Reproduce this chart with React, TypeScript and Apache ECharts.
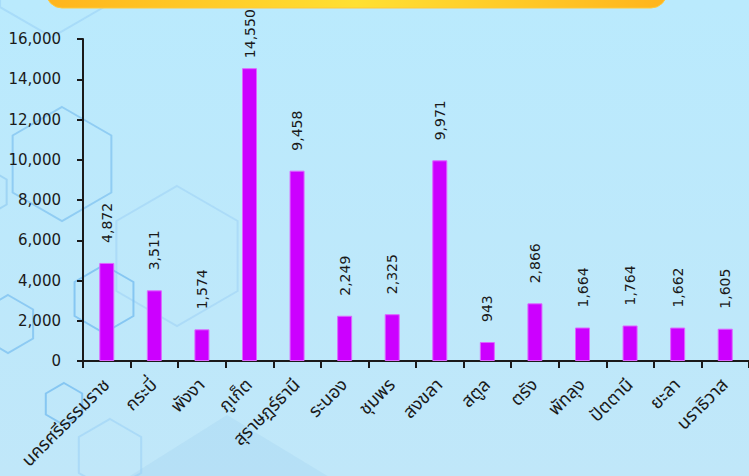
import React, { useEffect, useRef } from "react";
import * as echarts from "echarts";

const provinces = [
  "นครศรีธรรมราช",
  "กระบี่",
  "พังงา",
  "ภูเก็ต",
  "สุราษฎร์ธานี",
  "ระนอง",
  "ชุมพร",
  "สงขลา",
  "สตูล",
  "ตรัง",
  "พัทลุง",
  "ปัตตานี",
  "ยะลา",
  "นราธิวาส",
];
const counts = [4872, 3511, 1574, 14550, 9458, 2249, 2325, 9971, 943, 2866, 1664, 1764, 1662, 1605];
const yMin = 0;
const yMax = 16000;
const yInterval = 2000;

function hex(cx: number, cy: number, r: number, stroke: string, lineWidth: number) {
  const pts: number[][] = [];
  for (let i = 0; i < 6; i++) {
    const a = ((-90 + 60 * i) * Math.PI) / 180;
    pts.push([cx + r * Math.cos(a), cy + r * Math.sin(a)]);
  }
  return {
    type: "polygon",
    silent: true,
    z: -10,
    shape: { points: pts },
    style: { fill: "none", stroke, lineWidth },
  };
}

export default function App() {
  const ref = useRef<HTMLDivElement>(null);
  useEffect(() => {
    document.body.style.margin = "0";
    const chart = echarts.init(ref.current!, undefined, { renderer: "svg" });
    const labelFont = "'DejaVu Sans', Verdana, sans-serif";
    const option: any = {
      animation: false,
      backgroundColor: {
        type: "linear",
        x: 0,
        y: 0,
        x2: 0,
        y2: 1,
        colorStops: [
          { offset: 0, color: "#BAEAFD" },
          { offset: 1, color: "#C0E7F9" },
        ],
      },
      graphic: [
        {
          type: "polygon",
          silent: true,
          z: -11,
          shape: { points: [[227, 415], [60, 520], [400, 520]] },
          style: { fill: "rgba(140,195,235,0.18)" },
        },
        hex(52, -23, 60, "rgba(150,205,245,0.5)", 2),
        hex(62, 164, 57, "rgba(130,195,240,0.75)", 2),
        hex(177, 256, 70, "rgba(150,205,245,0.45)", 2),
        hex(104, 299, 34, "rgba(120,190,240,0.8)", 2),
        hex(8, 324, 29, "rgba(120,190,240,0.7)", 2),
        hex(-15, 192, 25, "rgba(140,200,240,0.6)", 2),
        hex(64, 404, 21, "rgba(120,190,240,0.8)", 2),
        hex(110, 455, 36, "rgba(150,205,245,0.5)", 2),
        {
          type: "rect",
          silent: true,
          z: 10,
          shape: { x: 46, y: -40, width: 621, height: 48, r: 16 },
          style: {
            fill: {
              type: "linear",
              x: 0,
              y: 0,
              x2: 1,
              y2: 0,
              colorStops: [
                { offset: 0, color: "#FFB41C" },
                { offset: 0.5, color: "#FFE033" },
                { offset: 1, color: "#FFB41C" },
              ],
            },
            stroke: "#FFC93A",
            lineWidth: 1,
          },
        },
      ],
      grid: { left: 83, right: 0, top: 39, bottom: 115, containLabel: false },
      xAxis: {
        type: "category",
        data: provinces,
        axisLine: { show: true, lineStyle: { color: "#1a1a1a", width: 2 } },
        axisTick: { show: true, length: 7, interval: 0, alignWithLabel: false, lineStyle: { color: "#1a1a1a", width: 2 } },
        axisLabel: {
          interval: 0,
          rotate: 45,
          margin: 21,
          fontSize: 18,
          color: "#1a1a1a",
          fontFamily: "Tahoma, 'Noto Sans Thai', Loma, Garuda, 'Noto Sans', sans-serif",
        },
        splitLine: { show: false },
      },
      yAxis: {
        type: "value",
        min: yMin,
        max: yMax,
        interval: yInterval,
        axisLine: { show: true, lineStyle: { color: "#1a1a1a", width: 2 } },
        axisTick: { show: true, length: 6, lineStyle: { color: "#1a1a1a", width: 2 } },
        axisLabel: {
          margin: 22,
          fontSize: 15,
          color: "#1a1a1a",
          fontFamily: labelFont,
          formatter: (v: number) => v.toLocaleString("en-US"),
        },
        splitLine: { show: false },
      },
      series: [
        {
          type: "bar",
          barWidth: 15,
          data: counts.map((v) =>
            v > 14000 ? { value: v, label: { distance: 10 } } : v
          ),
          itemStyle: { color: "#CC00FF", borderColor: "#DD66FF", borderWidth: 1 },
          label: {
            show: true,
            position: "top",
            rotate: 90,
            align: "left",
            verticalAlign: "middle",
            distance: 20,
            fontSize: 14,
            color: "#1a1a1a",
            fontFamily: labelFont,
            formatter: (p: any) => Number(p.value).toLocaleString("en-US"),
          },
        },
      ],
    };
    chart.setOption(option);
    return () => chart.dispose();
  }, []);
  return (
    <div
      ref={ref}
      style={{ position: "fixed", left: 0, top: 0, width: 749, height: 476 }}
    />
  );
}
